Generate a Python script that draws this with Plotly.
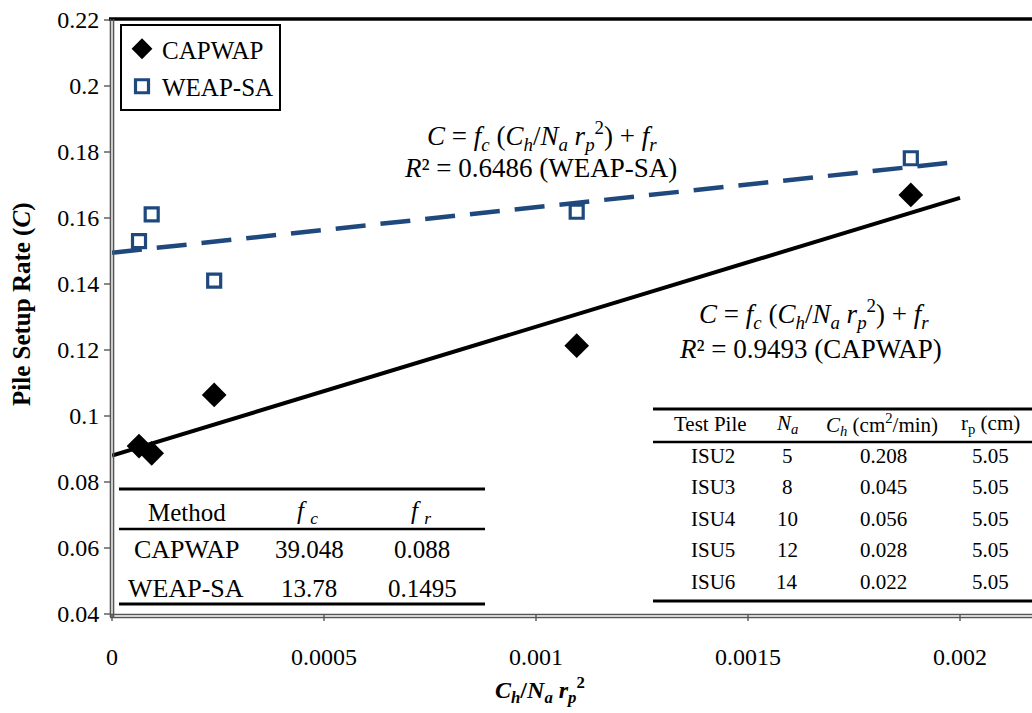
import plotly.graph_objects as go

# ---------------- data ----------------
ratio = [0.0000637, 0.0000936, 0.000241, 0.001096, 0.001884]   # Ch/(Na rp^2)
C_capwap = [0.0909, 0.0887, 0.1064, 0.1213, 0.1670]
C_weap = [0.1530, 0.1611, 0.1410, 0.1619, 0.1781]

methods = ["CAPWAP", "WEAP-SA"]
fc_vals = [39.048, 13.78]
fr_vals = [0.088, 0.1495]
fc_text = ["39.048", "13.78"]
fr_text = ["0.088", "0.1495"]
r2_vals = ["0.9493", "0.6486"]
fit_x = [0.0, 0.002]

piles = ["ISU2", "ISU3", "ISU4", "ISU5", "ISU6"]
Na = ["5", "8", "10", "12", "14"]
Ch = ["0.208", "0.045", "0.056", "0.028", "0.022"]
rp = ["5.05", "5.05", "5.05", "5.05", "5.05"]

x_ticks = [0, 0.0005, 0.001, 0.0015, 0.002]
x_ticktext = ["0", "0.0005", "0.001", "0.0015", "0.002"]
y_ticks = [0.04, 0.06, 0.08, 0.10, 0.12, 0.14, 0.16, 0.18, 0.20, 0.22]
y_ticktext = ["0.04", "0.06", "0.08", "0.1", "0.12", "0.14", "0.16", "0.18", "0.2", "0.22"]

# ---------------- layout geometry ----------------
W, H = 1032, 713
L, T, B = 112, 20, 99
PW, PH = W - L, H - T - B
X_MAX = PW / 424000.0

def px(x):
    return (x - L) / PW

def py(y):
    return (T + PH - y) / PH

FONT = "Liberation Serif"
BLUE = "#1F497D"

fig = go.Figure()

fig.add_trace(go.Scatter(
    x=fit_x, y=[fc_vals[0] * v + fr_vals[0] for v in fit_x], mode="lines",
    line=dict(color="black", width=4), showlegend=False, hoverinfo="skip"))
fig.add_trace(go.Scatter(
    x=fit_x, y=[fc_vals[1] * v + fr_vals[1] for v in fit_x], mode="lines",
    line=dict(color=BLUE, width=4.5, dash="30px,15px"), showlegend=False, hoverinfo="skip"))

fig.add_trace(go.Scatter(
    x=ratio, y=C_capwap, mode="markers", name="CAPWAP", legendgroup="a",
    marker=dict(symbol="diamond", size=19, color="black")))
fig.add_trace(go.Scatter(
    x=ratio, y=C_weap, mode="markers", name="WEAP-SA", legendgroup="b",
    marker=dict(symbol="square-open", size=13, color=BLUE, line=dict(width=3.2, color=BLUE))))

shapes = []
# plot frame
shapes.append(dict(type="line", xref="paper", yref="paper", x0=px(109), x1=1.0, y0=py(19), y1=py(19),
                   line=dict(color="black", width=3.5)))
for xx in (110.5, 113.5):
    shapes.append(dict(type="line", xref="paper", yref="paper", x0=px(xx), x1=px(xx), y0=py(617), y1=py(19),
                       line=dict(color="#555", width=1.6)))
for yy in (614.5, 617.5):
    shapes.append(dict(type="line", xref="paper", yref="paper", x0=px(110), x1=1.0, y0=py(yy), y1=py(yy),
                       line=dict(color="#555", width=1.6)))

# left table lines
for yy, wdt in ((489, 3), (529, 2.5), (604, 3)):
    shapes.append(dict(type="line", xref="paper", yref="paper", x0=px(119), x1=px(485), y0=py(yy), y1=py(yy),
                       line=dict(color="black", width=wdt)))
# right table lines
for yy, wdt in ((409, 3), (442, 2.5), (601, 3)):
    shapes.append(dict(type="line", xref="paper", yref="paper", x0=px(653), x1=1.0, y0=py(yy), y1=py(yy),
                       line=dict(color="black", width=wdt)))

annotations = []

def add_text(text, x, y, size, **kw):
    annotations.append(dict(text=text, x=px(x), y=py(y), xref="paper", yref="paper", showarrow=False,
                            xanchor="center", yanchor="middle", font=dict(family=FONT, size=size, color="black"),
                            **kw))

eq = "<i>C</i> = <i>f<sub>c</sub></i> (<i>C<sub>h</sub></i>/<i>N<sub>a</sub> r<sub>p</sub></i><sup>2</sup>) + <i>f<sub>r</sub></i>"
add_text(eq, 542, 136, 27)
add_text("<i>R</i>² = %s (%s)" % (r2_vals[1], methods[1]), 540, 168, 27)
add_text(eq, 814, 314, 27)
add_text("<i>R</i>² = %s (%s)" % (r2_vals[0], methods[0]), 810, 349, 27)

# left table
add_text("Method", 187, 512, 25)
add_text("<i>f</i> <i><sub>c</sub></i>", 307, 512, 25)
add_text("<i>f</i> <i><sub>r</sub></i>", 421, 512, 25)
for i, yy in enumerate((549, 588)):
    add_text(methods[i], 186, yy, 26)
    add_text(fc_text[i], 309, yy, 25)
    add_text(fr_text[i], 422, yy, 25)

# right table
add_text("Test Pile", 710, 424, 21)
add_text("<i>N</i><sub><i>a</i></sub>", 787, 424, 21)
add_text("<i>C</i><sub><i>h</i></sub> (cm<sup>2</sup>/min)", 882, 424, 21)
add_text("r<sub>p</sub> (cm)", 990, 424, 21)
for i, yy in enumerate((456, 487, 519, 550, 582)):
    add_text(piles[i], 713, yy, 21)
    add_text(Na[i], 787, yy, 21)
    add_text(Ch[i], 883, yy, 21)
    add_text(rp[i], 990, yy, 21)

# axis titles
add_text("<b><i>C<sub>h</sub></i>/<i>N<sub>a</sub> r<sub>p</sub></i><sup>2</sup></b>", 540, 690, 24)
add_text("<b>Pile Setup Rate (<i>C</i>)</b>", 22, 305, 25, textangle=-90)

fig.update_layout(
    width=W, height=H, autosize=False,
    margin=dict(l=L, r=0, t=T, b=B, pad=0),
    plot_bgcolor="white", paper_bgcolor="white",
    font=dict(family=FONT, size=24, color="black"),
    xaxis=dict(range=[0, X_MAX], tickvals=x_ticks, ticktext=x_ticktext, showgrid=False, zeroline=False,
               showline=False, ticks="outside", ticklen=6, tickwidth=1.5, tickcolor="#888", automargin=False,
               ticklabelstandoff=15, tickfont=dict(family=FONT, size=24)),
    yaxis=dict(range=[0.04, 0.22], tickvals=y_ticks, ticktext=y_ticktext, showgrid=False, zeroline=False,
               showline=False, ticks="outside", ticklen=7, tickwidth=1.5, tickcolor="#888", automargin=False,
               tickfont=dict(family=FONT, size=24)),
    legend=dict(x=px(120), y=py(24), xanchor="left", yanchor="top", bgcolor="white",
                bordercolor="black", borderwidth=2, font=dict(family=FONT, size=25),
                tracegroupgap=2, itemwidth=30),
    shapes=shapes, annotations=annotations,
)

fig.write_html("out.html", config={"displayModeBar": False},
               post_script="document.body.style.margin='0px';document.body.style.overflow='hidden';")
